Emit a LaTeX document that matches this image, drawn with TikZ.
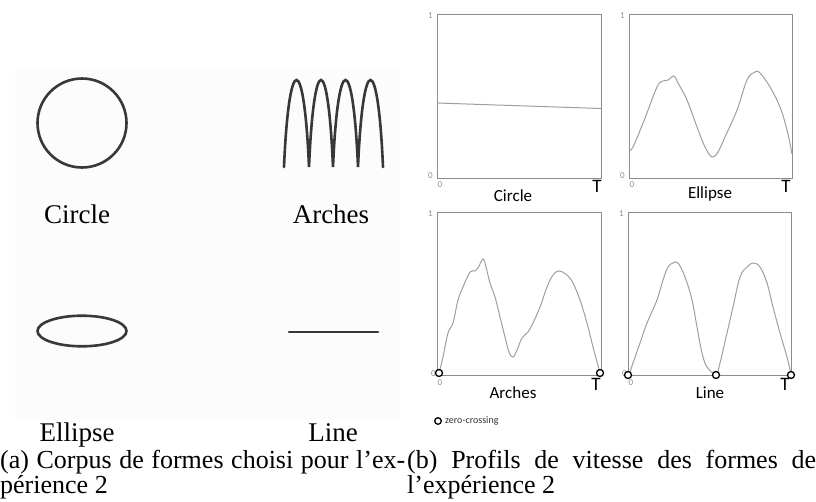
\documentclass[tikz,border=0pt]{standalone}
\usepackage{fontspec}
\newfontfamily\labfont{Liberation Serif}
\newfontfamily\calfont{Carlito}
\begin{document}
\begin{tikzpicture}[x=1pt,y=-1pt,
  shp/.style={line width=2.6pt,draw=black!78,line cap=round},
  frame/.style={draw=black!45,line width=0.9pt},
  curve/.style={draw=black!38,line width=1pt},
  zc/.style={draw=black,line width=1.3pt,fill=white},
  biglab/.style={font=\labfont\fontsize{27}{30}\selectfont,inner sep=0pt,anchor=base},
  plab/.style={font=\calfont\fontsize{17}{19}\selectfont,inner sep=0pt,anchor=base},
  tlab/.style={font=\calfont\fontsize{19}{21}\selectfont,inner sep=0pt},
  tick/.style={font=\calfont\fontsize{9}{10}\selectfont,text=black!45,inner sep=0pt},
  captext/.style={font=\labfont\fontsize{26}{23}\selectfont,inner sep=0pt,anchor=north west,text width=#1,align=justify}]
\useasboundingbox (0,0) rectangle (816,501);
\fill[black!1] (15,68) rectangle (400,420);
% left shapes
\draw[shp] (82,123) circle (44.5);
\draw[shp] (284,167) \foreach \a/\b in {284/309,309/333,333/358,358/383}{.. controls (\a+5,51) and (\b-5,51) .. (\b,167)};
\draw[shp] (82,331) ellipse (44.5 and 15.3);
\draw[shp] (289,332) -- (378,332);
\node[biglab] (lc) at (77,223) {Circle};
\node[biglab] (la) at (331,223) {Arches};
\node[biglab] (le) at (77,441) {Ellipse};
\node[biglab] (ll) at (333,441) {Line};
% plots
\draw[frame] (437,14) rectangle (601,178);
\draw[frame] (629,14) rectangle (792,178);
\draw[frame] (437,212) rectangle (601,375);
\draw[frame] (628,212) rectangle (791,375);
% ticks
\foreach \x/\y in {437/14,629/14,437/212,628/212}{\node[tick,anchor=east] at (\x-4,\y+2) {1};}
\foreach \x/\y in {437/178,629/178}{\node[tick,anchor=east] at (\x-4,\y-2) {0}; \node[tick] at (\x+3,\y+7) {0};}
\foreach \x/\y in {437/375,628/375}{\node[tick,anchor=east] at (\x-1,\y-1) {0}; \node[tick] at (\x+3,\y+8) {0};}
\node[tlab] (t1) at (597,186) {T};
\node[tlab] (t2) at (786,186) {T};
\node[tlab] (t3) at (596,384) {T};
\node[tlab] (t4) at (785,384) {T};
\node[plab] (pc) at (513,201) {Circle};
\node[plab] (pe) at (710,198) {Ellipse};
\node[plab] (pa) at (513,398) {Arches};
\node[plab] (pl) at (710,398) {Line};
% curves
\draw[curve] (437,103) -- (601,108.5);
\draw[curve] plot[smooth,tension=0.6] coordinates {(629,150) (633,147) (645,118) (657,87) (663,81) (668,80) (674,76) (678,83) (687,100) (697,127) (705,147) (712,157) (718,152) (725,137) (737,110) (747,80) (755,72) (760,73) (770,87) (780,107) (787,130) (792,154)};
\draw[curve] plot[smooth,tension=0.6] coordinates {(439,373) (443,357) (448,333) (453,323) (458,300) (463,287) (470,272) (475,271) (478,268) (483,259) (486,267) (490,283) (495,297) (500,317) (505,337) (509,352) (513,357) (517,350) (522,338) (528,332) (533,323) (540,307) (547,287) (553,275) (559,271) (567,275) (573,283) (580,300) (587,323) (593,347) (600,373)};
\draw[curve] plot[smooth,tension=0.6] coordinates {(629,375) (633,363) (640,343) (647,323) (657,300) (663,280) (668,267) (673,263) (678,263) (685,277) (692,300) (697,327) (702,353) (707,367) (716,374) (720,363) (727,333) (733,307) (740,277) (747,267) (753,263) (760,267) (767,283) (773,307) (780,333) (787,357) (791,374)};
% zero-crossings
\foreach \x/\y in {439/373,600/373,628/375,716/375,791/375}{\draw[zc] (\x,\y) circle (3.5);}
\draw[zc] (438,421) circle (3.3);
\node[tick,text=black!80,anchor=west,font=\calfont\fontsize{10}{12}\selectfont] (zc) at (445,421) {zero-crossing};
% captions
\node[captext=405pt] (ca) at (0,450) {(a) Corpus de formes choisi pour l’ex-\linebreak périence 2};
\node[captext=409pt] (cb) at (407,450) {(b) Profils de vitesse des formes de\linebreak l’expérience 2};
\end{tikzpicture}
\end{document}
